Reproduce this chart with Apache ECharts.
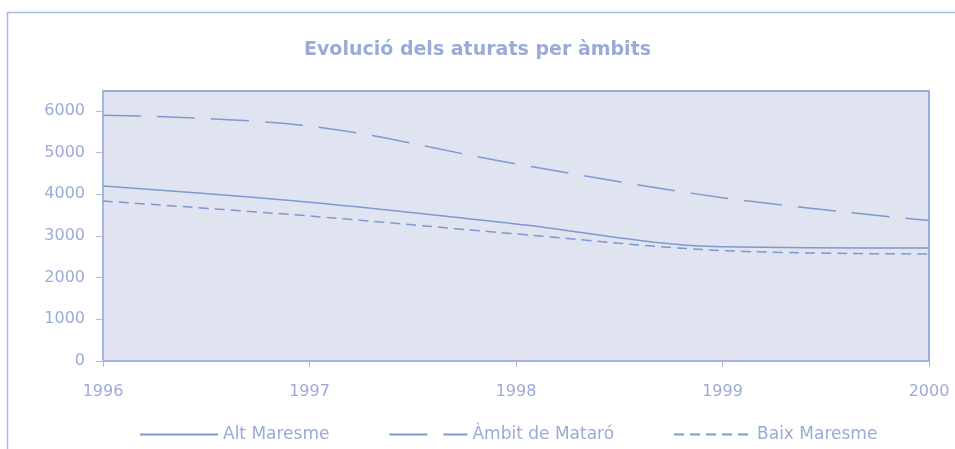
<!DOCTYPE html>
<html>
<head>
<meta charset="utf-8">
<script src="https://cdn.jsdelivr.net/npm/echarts@6/dist/echarts.min.js"></script>
<style>
  html, body { margin: 0; padding: 0; background: #fff; }
  #chart { width: 955px; height: 449px; }
</style>
</head>
<body>
<div id="chart"></div>
<script>
// anys i valors llegits del gràfic
const years = ['1996', '1997', '1998', '1999', '2000']
const altMaresme = [4200, 3810, 3290, 2740, 2710]
const ambitMataro = [5900, 5640, 4730, 3920, 3370]
const baixMaresme = [3840, 3480, 3050, 2650, 2570]
const yTicks = [0, 1000, 2000, 3000, 4000, 5000, 6000]

const lineColor = '#7e98d0'
const axisColor = '#a9b9e0'
const textColor = '#9aabd8'
const font = 'DejaVu Sans'

const chart = echarts.init(document.getElementById('chart'))

chart.setOption({
  animation: false,
  title: {
    text: 'Evolució dels aturats per àmbits',
    left: 'center',
    top: 36,
    textStyle: {
      color: textColor,
      fontFamily: font,
      fontSize: 19,
      fontWeight: 'bold'
    }
  },
  graphic: [{
    type: 'rect',
    shape: { x: 7.5, y: 12.5, width: 960, height: 450 },
    style: { fill: 'none', stroke: axisColor, lineWidth: 1.5 },
    silent: true
  }],
  legend: {
    top: 421,
    left: 134,
    itemGap: 59,
    itemWidth: 78,
    itemHeight: 10,
    itemStyle: { opacity: 0 },
    textStyle: {
      color: textColor,
      fontFamily: font,
      fontSize: 17
    },
    data: ['Alt Maresme', 'Àmbit de Mataró', 'Baix Maresme']
  },
  grid: {
    left: 103,
    right: 26,
    top: 91,
    bottom: 88,
    show: true,
    backgroundColor: '#e0e4f1',
    borderColor: lineColor,
    borderWidth: 1.5
  },
  xAxis: {
    type: 'category',
    data: years,
    boundaryGap: false,
    axisLine: { lineStyle: { color: axisColor, width: 1.5 } },
    axisTick: { alignWithLabel: true, length: 6, lineStyle: { color: axisColor } },
    axisLabel: {
      color: textColor,
      fontFamily: font,
      fontSize: 16,
      margin: 23
    }
  },
  yAxis: {
    type: 'value',
    min: 0,
    max: 6480,
    interval: 1000,
    splitLine: { show: false },
    axisLine: { show: true, lineStyle: { color: axisColor, width: 1.5 } },
    axisTick: { show: true, customValues: yTicks, length: 7, lineStyle: { color: axisColor } },
    axisLabel: {
      customValues: yTicks,
      formatter: v => String(v),
      color: textColor,
      fontFamily: font,
      fontSize: 16,
      margin: 18
    }
  },
  series: [{
    name: 'Alt Maresme',
    type: 'line',
    smooth: 0.35,
    symbol: 'none',
    data: altMaresme,
    lineStyle: { color: lineColor, width: 1.5, type: 'solid' },
    itemStyle: { color: lineColor }
  }, {
    name: 'Àmbit de Mataró',
    type: 'line',
    smooth: 0.35,
    symbol: 'none',
    data: ambitMataro,
    lineStyle: { color: lineColor, width: 1.5, type: [38, 16] },
    itemStyle: { color: lineColor }
  }, {
    name: 'Baix Maresme',
    type: 'line',
    smooth: 0.35,
    symbol: 'none',
    data: baixMaresme,
    lineStyle: { color: lineColor, width: 1.5, type: [10, 6] },
    itemStyle: { color: lineColor }
  }]
})
</script>
</body>
</html>
